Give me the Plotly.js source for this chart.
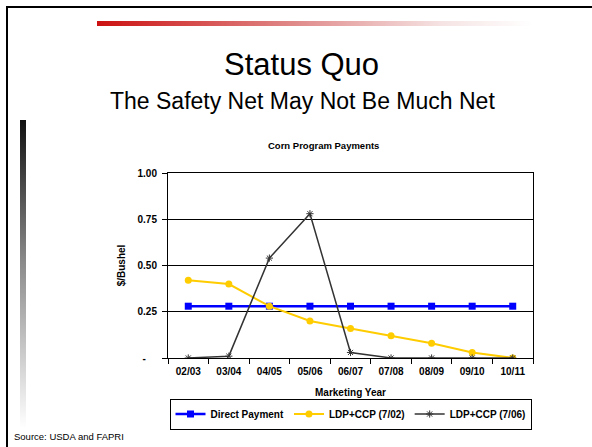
<!DOCTYPE html>
<html>
<head>
<meta charset="utf-8">
<script src="https://cdn.plot.ly/plotly-3.0.1.min.js"></script>
<style>
  html, body { margin:0; padding:0; background:#fff; }
  #wrap { position:relative; width:592px; height:447px; overflow:hidden; }
  #chart { position:absolute; left:0; top:0; width:592px; height:447px; }
  .deco { position:absolute; pointer-events:none; }
</style>
</head>
<body>
<div id="wrap">
  <div id="chart"></div>
  <div class="deco" style="left:6px; top:6px; width:700px; height:600px; border-left:2px solid #000; border-top:2px solid #000;"></div>
  <div class="deco" style="left:97px; top:21px; width:495px; height:5px; background:linear-gradient(to right, #cc1111, #e08a8a 40%, #f6e4e4 70%, #ffffff 88%);"></div>
  <div class="deco" style="left:20px; top:120px; width:6px; height:308px; background:linear-gradient(to bottom, #111111, #888888 45%, #ffffff);"></div>
</div>
<script>
const years = ["02/03","03/04","04/05","05/06","06/07","07/08","08/09","09/10","10/11"];
const directPayment = [0.28,0.28,0.28,0.28,0.28,0.28,0.28,0.28,0.28];
const ldpCcp0702 = [0.42,0.40,0.28,0.20,0.16,0.12,0.08,0.03,0.00];
const ldpCcp0706 = [0.00,0.01,0.54,0.78,0.03,0.00,0.00,0.00,0.00];
const yTickVals = [0,0.25,0.5,0.75,1];
const yTickText = ["-\u00a0\u00a0\u00a0\u00a0","0.25","0.50","0.75","1.00"];

const F = "Liberation Sans, Arial, sans-serif";
const L = 168, R = 533, T = 173, B = 358;
const px = x => (x - L) / (R - L);
const py = y => (B - y) / (B - T);

const traces = [
  {x: years, y: directPayment, name: "Direct Payment", type: "scatter", mode: "lines+markers",
   line: {color: "#0000ff", width: 2.5}, marker: {symbol: "square", size: 7, color: "#0000ff"}},
  {x: years, y: ldpCcp0702, name: "LDP+CCP (7/02)", type: "scatter", mode: "lines+markers",
   line: {color: "#ffcc00", width: 2}, marker: {symbol: "circle", size: 7, color: "#ffcc00"}},
  {x: years, y: ldpCcp0706, name: "LDP+CCP (7/06)", type: "scatter", mode: "lines+markers",
   line: {color: "#333333", width: 1.5}, marker: {symbol: "asterisk-open", size: 6, line: {color: "#333333", width: 1}}}
];

const layout = {
  width: 592, height: 447,
  margin: {l: L, r: 592 - R, t: T, b: 447 - B, pad: 0},
  paper_bgcolor: "rgba(0,0,0,0)", plot_bgcolor: "#fff",
  font: {family: F, color: "#000"},
  showlegend: true,
  legend: {orientation: "h", x: 0.5, xanchor: "center", y: py(414), yanchor: "middle",
           bordercolor: "#000", borderwidth: 1, bgcolor: "#fff",
           font: {family: F, size: 10, color: "#000", weight: "bold"},
           itemwidth: 30, tracegroupgap: 0},
  xaxis: {type: "category", range: [-0.5, 8.5], showgrid: false, showline: true, linecolor: "#000", linewidth: 1,
          mirror: true, ticks: "outside", tickson: "boundaries", ticklen: 5, tickcolor: "#000",
          ticklabelstandoff: 4,
          tickfont: {family: F, size: 10, weight: "bold"},
          title: {text: "<b>Marketing Year</b>", font: {family: F, size: 10}, standoff: 12}},
  yaxis: {range: [0, 1], tickvals: yTickVals, ticktext: yTickText, showgrid: true, gridcolor: "#000", gridwidth: 1,
          showline: true, linecolor: "#000", linewidth: 1, mirror: true, ticks: "outside", ticklen: 5, tickcolor: "#000",
          ticklabelstandoff: 3,
          zeroline: false, tickfont: {family: F, size: 10, weight: "bold"},
          title: {text: "<b>$/Bushel</b>", font: {family: F, size: 10}, standoff: 10}},
  annotations: [
    {text: "Status Quo", xref: "paper", yref: "paper", x: px(301), y: py(84), xanchor: "center", yanchor: "bottom",
     showarrow: false, font: {family: F, size: 31, color: "#000"}},
    {text: "The Safety Net May Not Be Much Net", xref: "paper", yref: "paper", x: px(302), y: py(116), xanchor: "center", yanchor: "bottom",
     showarrow: false, font: {family: F, size: 23, color: "#000"}},
    {text: "<b>Corn Program Payments</b>", xref: "paper", yref: "paper", x: px(323), y: py(145), xanchor: "center", yanchor: "middle",
     showarrow: false, font: {family: F, size: 9.5, color: "#000"}},
    {text: "Source: USDA and FAPRI", xref: "paper", yref: "paper", x: px(12), y: py(436), xanchor: "left", yanchor: "middle",
     showarrow: false, font: {family: F, size: 9.5, color: "#000"}}
  ]
};

Plotly.newPlot("chart", traces, layout, {displayModeBar: false, staticPlot: true});
</script>
</body>
</html>
